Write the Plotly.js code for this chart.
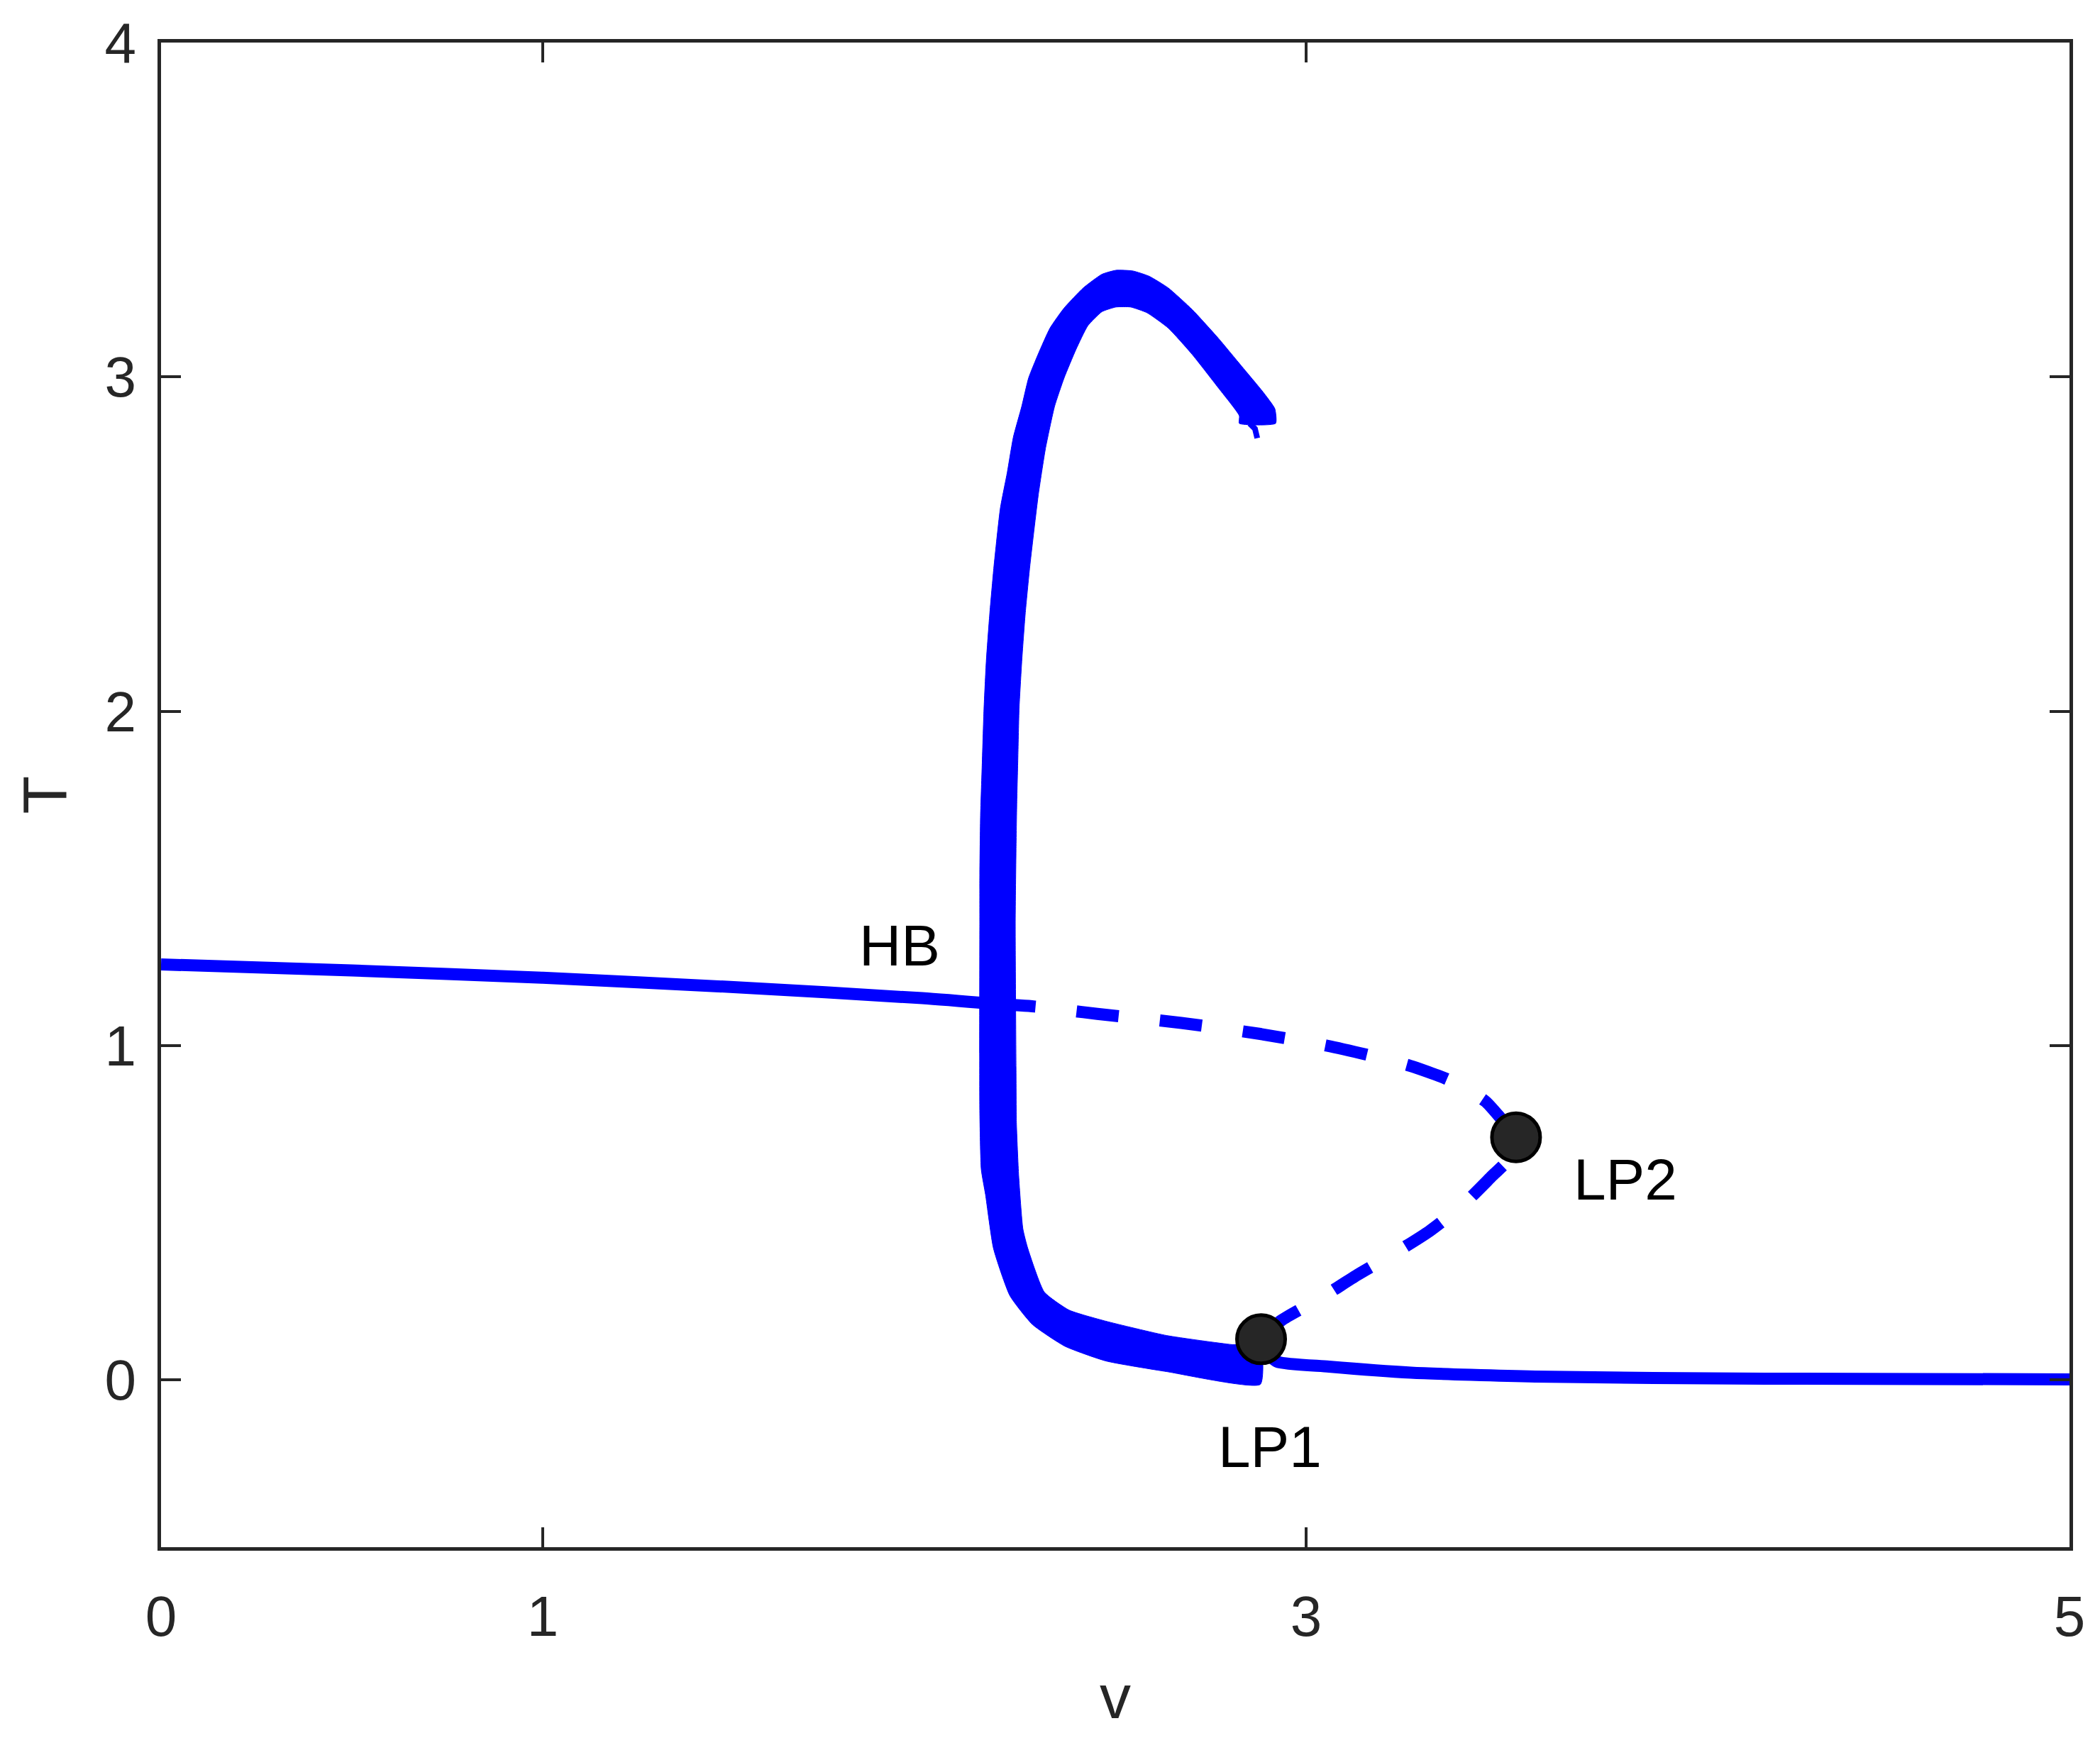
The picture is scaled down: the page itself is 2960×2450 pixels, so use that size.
<!DOCTYPE html>
<html>
<head>
<meta charset="utf-8">
<script src="https://cdn.plot.ly/plotly-3.0.1.min.js"></script>
<style>
  html, body { margin: 0; padding: 0; background: #fff; }
  #plot { width: 2960px; height: 2450px; }
</style>
</head>
<body>
<div id="plot"></div>
<script>
// equilibrium branch, stable part (left of HB)
const eqStableV = [0, 0.5, 1.0, 1.5, 1.994, 2.18];
const eqStableT = [1.243, 1.225, 1.203, 1.175, 1.142, 1.125];

// unstable part HB -> LP2 -> LP1
const eqUnstableV = [2.18, 2.289, 2.453, 2.673, 2.88, 3.054, 3.162, 3.272, 3.373, 3.469, 3.509, 3.55,
                     3.535, 3.488, 3.41, 3.323, 3.23, 3.134, 3.041, 2.935, 2.882];
const eqUnstableT = [1.125, 1.117, 1.095, 1.068, 1.035, 1.0, 0.972, 0.94, 0.898, 0.834, 0.784, 0.726,
                     0.665, 0.611, 0.523, 0.445, 0.378, 0.314, 0.247, 0.178, 0.122];

// stable again after LP1
const eqLowV = [2.882, 2.895, 2.924, 3.06, 3.275, 3.6, 4.2, 5.0];
const eqLowT = [0.122, 0.085, 0.055, 0.040, 0.022, 0.010, 0.004, 0.002];

// periodic orbit band: outer edge (bottom -> top end), then inner edge (top end -> bottom)
const bandOuterV = [2.880, 2.635, 2.475, 2.368, 2.283, 2.224, 2.181, 2.160, 2.149, 2.145, 2.145, 2.145,
                    2.147, 2.151, 2.156, 2.162, 2.171, 2.182, 2.199, 2.217, 2.233, 2.255, 2.273, 2.298,
                    2.329, 2.366, 2.416, 2.465, 2.502, 2.546, 2.589, 2.639, 2.701, 2.769, 2.831, 2.887,
                    2.918, 2.920];
const bandOuterT = [-0.013, 0.025, 0.057, 0.101, 0.166, 0.252, 0.393, 0.555, 0.629, 0.806, 1.371, 1.513,
                    1.689, 1.831, 2.007, 2.149, 2.290, 2.432, 2.608, 2.714, 2.820, 2.912, 2.997, 3.068,
                    3.146, 3.206, 3.266, 3.307, 3.319, 3.317, 3.301, 3.266, 3.202, 3.117, 3.032, 2.955,
                    2.905, 2.861];
const bandInnerV = [2.825, 2.825, 2.769, 2.701, 2.639, 2.583, 2.540, 2.502, 2.465, 2.428, 2.397, 2.366,
                    2.341, 2.317, 2.298, 2.276, 2.264, 2.255, 2.248, 2.245, 2.242, 2.240, 2.238, 2.240,
                    2.241, 2.247, 2.258, 2.271, 2.314, 2.379, 2.475, 2.635, 2.805, 2.880];
const bandInnerT = [2.861, 2.884, 2.969, 3.068, 3.146, 3.192, 3.209, 3.209, 3.195, 3.153, 3.082, 2.997,
                    2.912, 2.785, 2.644, 2.432, 2.290, 2.149, 2.007, 1.866, 1.725, 1.583, 1.371, 0.934,
                    0.770, 0.610, 0.452, 0.393, 0.263, 0.209, 0.176, 0.133, 0.106, 0.101];

// little tail under the end of the band
const tailV = [2.852, 2.866, 2.872];
const tailT = [2.861, 2.845, 2.817];

// special points
const lpNames = ['LP1', 'LP2'];
const lpV = [2.882, 3.55];
const lpT = [0.122, 0.726];

const labelNames = ['HB', 'LP1', 'LP2'];
const labelV = [1.935, 2.905, 3.837];
const labelT = [1.30, -0.20, 0.60];

const xTicks = [0, 1, 3, 5];
const yTicks = [0, 1, 2, 3, 4];

const blue = '#0000ff';
const axisColor = '#262626';
const fontFam = '"Liberation Sans", Arial, Helvetica, sans-serif';

const bandV = bandOuterV.concat(bandInnerV, [bandOuterV[0]]);
const bandT = bandOuterT.concat(bandInnerT, [bandOuterT[0]]);

const traces = [
    {x: eqStableV, y: eqStableT, mode: 'lines', type: 'scatter',
     line: {color: blue, width: 17, shape: 'spline', smoothing: 0.6}, hoverinfo: 'skip'},
    {x: eqLowV, y: eqLowT, mode: 'lines', type: 'scatter',
     line: {color: blue, width: 17, shape: 'spline', smoothing: 0.6}, hoverinfo: 'skip'},
    {x: bandV, y: bandT, mode: 'lines', type: 'scatter', fill: 'toself',
     fillcolor: blue, line: {color: blue, width: 1, shape: 'spline', smoothing: 0.5},
     hoverinfo: 'skip'},
    {x: tailV, y: tailT, mode: 'lines', type: 'scatter',
     line: {color: blue, width: 8}, hoverinfo: 'skip'},
    {x: eqUnstableV, y: eqUnstableT, mode: 'lines', type: 'scatter',
     line: {color: blue, width: 17, dash: '60px,58px', shape: 'spline', smoothing: 0.6},
     hoverinfo: 'skip'},
    {x: lpV, y: lpT, text: lpNames, mode: 'markers', type: 'scatter',
     marker: {size: 68, color: '#262626', line: {color: '#000000', width: 5}}, hoverinfo: 'skip'}
];

const annotations = labelNames.map((name, i) => ({
    x: labelV[i], y: labelT[i], text: name, showarrow: false,
    xanchor: 'center', yanchor: 'middle',
    font: {family: fontFam, size: 82, color: '#000000'}
}));

const axisBase = {
    showgrid: false, zeroline: false,
    showline: true, linecolor: axisColor, linewidth: 5,
    mirror: 'allticks', ticks: 'inside', ticklen: 28, tickwidth: 4, tickcolor: axisColor,
    tickfont: {family: fontFam, size: 80, color: axisColor}
};

const layout = {
    width: 2960, height: 2450,
    margin: {l: 227, r: 43, t: 60, b: 269},
    paper_bgcolor: '#ffffff', plot_bgcolor: '#ffffff',
    showlegend: false,
    font: {family: fontFam, color: axisColor},
    xaxis: Object.assign({}, axisBase, {
        range: [0, 5], tickvals: xTicks, ticktext: xTicks.map(String),
        ticklabelstandoff: 24,
        title: {text: 'v', font: {family: fontFam, size: 88, color: axisColor}, standoff: 40}
    }),
    yaxis: Object.assign({}, axisBase, {
        range: [-0.5, 4], tickvals: yTicks, ticktext: yTicks.map(String),
        ticklabelstandoff: 14,
        title: {text: 'T', font: {family: fontFam, size: 88, color: axisColor}, standoff: 26}
    }),
    annotations: annotations
};

Plotly.newPlot('plot', traces, layout, {displayModeBar: false, staticPlot: true});
</script>
</body>
</html>
